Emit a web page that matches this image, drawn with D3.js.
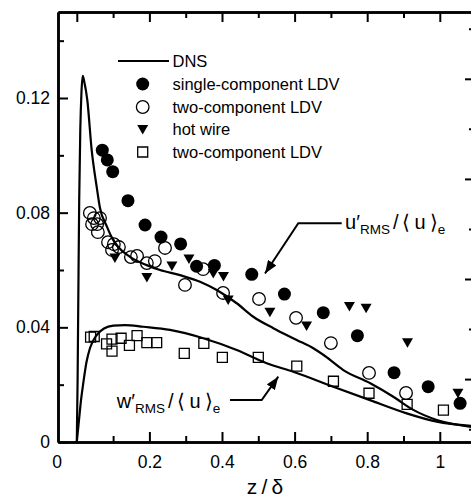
<!DOCTYPE html>
<html>
<head>
<meta charset="utf-8">
<script src="https://cdn.jsdelivr.net/npm/d3@7"></script>
<style>
  body { margin: 0; background: #fff; }
  svg { display: block; font-family: "Liberation Sans", Arial, sans-serif; }
  .axis path, .axis line { stroke: #000; }
  .axis text { font-size: 17.5px; fill: #000; }
</style>
</head>
<body>
<div id="chart"></div>
<script>
// DNS profiles (z/delta, value)
const dnsUz = [0, 0.0022, 0.0041, 0.0066, 0.0096, 0.0129, 0.0163, 0.0207, 0.0289, 0.041, 0.0548, 0.0639, 0.0824, 0.097, 0.1135, 0.1466, 0.1926, 0.2292, 0.2843, 0.3394, 0.3854, 0.4405, 0.4862, 0.5413, 0.6058, 0.6515, 0.6837, 0.7342, 0.8085, 0.8719, 0.927, 0.9915, 1.086];
const dnsUv = [0, 0.0216, 0.0495, 0.0844, 0.1088, 0.1221, 0.1277, 0.1256, 0.1193, 0.1018, 0.089, 0.0816, 0.0753, 0.0712, 0.0681, 0.0646, 0.0617, 0.06, 0.0582, 0.0559, 0.053, 0.0484, 0.0437, 0.0397, 0.0356, 0.0327, 0.03, 0.0251, 0.0205, 0.0158, 0.0112, 0.0077, 0.0053];
const dnsWz = [0, 0.0061, 0.0116, 0.0179, 0.0267, 0.0364, 0.0548, 0.0749, 0.1006, 0.1328, 0.1832, 0.2567, 0.3485, 0.4405, 0.5231, 0.5964, 0.7066, 0.8077, 0.9088, 0.9915, 1.086];
const dnsWv = [0, 0.0077, 0.0146, 0.0206, 0.0279, 0.0328, 0.0373, 0.0396, 0.0406, 0.0408, 0.0402, 0.0391, 0.0362, 0.0321, 0.0275, 0.0245, 0.0193, 0.0146, 0.01, 0.0071, 0.0056];

// single-component LDV (filled circles)
const ldv1Z = [0.0702, 0.084, 0.0989, 0.141, 0.188, 0.232, 0.286, 0.33, 0.379, 0.482, 0.572, 0.679, 0.773, 0.874, 0.968, 1.056];
const ldv1V = [0.1018, 0.0984, 0.0943, 0.0842, 0.0757, 0.0715, 0.0691, 0.0613, 0.0616, 0.0585, 0.0516, 0.0451, 0.0371, 0.0242, 0.0193, 0.0135];
// two-component LDV, u' (open circles)
const ldv2Z = [0.036, 0.047, 0.064, 0.042, 0.056, 0.058, 0.086, 0.102, 0.097, 0.116, 0.149, 0.166, 0.193, 0.215, 0.243, 0.298, 0.348, 0.403, 0.502, 0.604, 0.7, 0.805, 0.907];
const ldv2V = [0.0799, 0.0781, 0.0781, 0.076, 0.076, 0.0732, 0.0697, 0.069, 0.067, 0.068, 0.0645, 0.0649, 0.0624, 0.0631, 0.0677, 0.0548, 0.0603, 0.052, 0.0499, 0.0433, 0.0345, 0.0241, 0.0171];
// hot wire (triangles)
const hotZ = [0.105, 0.193, 0.262, 0.309, 0.376, 0.404, 0.417, 0.532, 0.633, 0.751, 0.797, 0.911, 1.05];
const hotV = [0.0642, 0.0574, 0.0614, 0.0638, 0.0588, 0.0577, 0.0495, 0.0453, 0.0405, 0.0473, 0.0467, 0.0346, 0.017];
// two-component LDV, w' (squares)
const ldvWZ = [0.038, 0.048, 0.082, 0.097, 0.097, 0.122, 0.145, 0.166, 0.193, 0.22, 0.296, 0.35, 0.401, 0.5, 0.606, 0.707, 0.805, 0.91, 1.01];
const ldvWV = [0.0366, 0.0368, 0.0342, 0.0359, 0.0317, 0.0362, 0.0337, 0.0371, 0.0347, 0.0347, 0.0309, 0.0344, 0.0295, 0.0295, 0.0265, 0.0212, 0.017, 0.0131, 0.0111];

const legendLabels = ['DNS', 'single-component LDV', 'two-component LDV', 'hot wire', 'two-component LDV'];
const xTicks = [0.2, 0.4, 0.6, 0.8, 1];
const xMinor = [0.1, 0.3, 0.5, 0.7, 0.9];
const xTopMajor = [0, 0.2, 0.4, 0.6, 0.8, 1];
const yTicks = [0, 0.04, 0.08, 0.12];
const yMinor = [0.02, 0.06, 0.1, 0.14];
const rTicks = [0.04, 0.08, 0.12, 0.16];
const rMinor = [0.02, 0.06, 0.1, 0.14, 0.18];

const width = 471;
const height = 500;
const plot = { left: 58, top: 12, right: 475, bottom: 442 };

const svg = d3.select('#chart')
  .append('svg')
  .attr('width', width)
  .attr('height', height);

const x = d3.scaleLinear().domain([-0.0518, 1.097]).range([plot.left, plot.right]);
const y = d3.scaleLinear().domain([0, 0.15]).range([plot.bottom, plot.top]);
// right-hand axis has its own tick spacing
const yR = d3.scaleLinear().domain([0.01486, 0.1867]).range([plot.bottom, plot.top]);

// arrow head
svg.append('defs').append('marker')
  .attr('id', 'arrow')
  .attr('markerUnits', 'userSpaceOnUse')
  .attr('markerWidth', 14)
  .attr('markerHeight', 10)
  .attr('refX', 13)
  .attr('refY', 5)
  .attr('orient', 'auto')
  .append('path')
  .attr('d', 'M0,0 L13,5 L0,10 z')
  .attr('fill', '#000');

// Axes
function styleAxis(g) {
  g.attr('class', 'axis');
  g.select('.domain').attr('stroke-width', 2.5);
  g.selectAll('.tick line').attr('stroke-width', 2);
}
svg.append('g')
  .attr('transform', `translate(${plot.left},0)`)
  .call(d3.axisLeft(y).tickValues(yTicks).tickSize(-10).tickSizeOuter(0).tickPadding(8).tickFormat(d => d === 0 ? '0' : d3.format('.2f')(d)))
  .call(styleAxis);
svg.append('g')
  .attr('transform', `translate(${plot.left},0)`)
  .call(d3.axisLeft(y).tickValues(yMinor).tickSize(-6).tickSizeOuter(0).tickFormat(''))
  .call(styleAxis);

svg.append('g')
  .attr('transform', `translate(0,${plot.bottom})`)
  .call(d3.axisBottom(x).tickValues(xTicks).tickSize(-10).tickSizeOuter(0).tickPadding(14).tickFormat(d3.format('~g')))
  .call(styleAxis);
svg.append('g')
  .attr('transform', `translate(0,${plot.bottom})`)
  .call(d3.axisBottom(x).tickValues(xMinor).tickSize(-6).tickSizeOuter(0).tickFormat(''))
  .call(styleAxis);
// the "0" label sits under the corner
svg.append('text')
  .attr('x', plot.left - 1)
  .attr('y', plot.bottom + 14)
  .attr('dy', '0.71em')
  .attr('text-anchor', 'middle')
  .style('font-size', '17.5px')
  .text('0');

svg.append('g')
  .attr('transform', `translate(0,${plot.top})`)
  .call(d3.axisTop(x).tickValues(xTopMajor).tickSize(-10).tickSizeOuter(0).tickFormat(''))
  .call(styleAxis);
svg.append('g')
  .attr('transform', `translate(0,${plot.top})`)
  .call(d3.axisTop(x).tickValues(xMinor).tickSize(-6).tickSizeOuter(0).tickFormat(''))
  .call(styleAxis);

svg.append('g')
  .attr('transform', `translate(${plot.right},0)`)
  .call(d3.axisRight(yR).tickValues(rTicks).tickSize(-10).tickSizeOuter(0).tickFormat(''))
  .call(styleAxis);
svg.append('g')
  .attr('transform', `translate(${plot.right},0)`)
  .call(d3.axisRight(yR).tickValues(rMinor).tickSize(-6).tickSizeOuter(0).tickFormat(''))
  .call(styleAxis);

// x label
svg.append('text')
  .attr('x', 265)
  .attr('y', 494)
  .attr('text-anchor', 'middle')
  .style('font-size', '21px')
  .text('z\u2009/\u2009\u03b4');

// DNS lines
const line = d3.line()
  .x(d => x(d[0]))
  .y(d => y(d[1]))
  .curve(d3.curveMonotoneX);

[[dnsUz, dnsUv], [dnsWz, dnsWv]].forEach(([zs, vs]) => {
  svg.append('path')
    .attr('d', line(zs.map((z, i) => [z, vs[i]])))
    .attr('fill', 'none')
    .attr('stroke', '#000')
    .attr('stroke-width', 2.2);
});

// markers
const tri = 'M-5.5,-4.5 L5.5,-4.5 L0,5 Z';
const sq = 'M-5,-5 L5,-5 L5,5 L-5,5 Z';

function drawCircles(zs, vs, filled) {
  svg.append('g').selectAll('circle')
    .data(zs.map((z, i) => [z, vs[i]]))
    .enter()
    .append('circle')
    .attr('cx', d => x(d[0]))
    .attr('cy', d => y(d[1]))
    .attr('r', filled ? 6.5 : 6.3)
    .attr('fill', filled ? '#000' : 'none')
    .attr('stroke', '#000')
    .attr('stroke-width', filled ? 0 : 1.3);
}
function drawPaths(zs, vs, d, filled) {
  svg.append('g').selectAll('path')
    .data(zs.map((z, i) => [z, vs[i]]))
    .enter()
    .append('path')
    .attr('d', d)
    .attr('transform', p => `translate(${x(p[0])},${y(p[1])})`)
    .attr('fill', filled ? '#000' : 'none')
    .attr('stroke', filled ? 'none' : '#000')
    .attr('stroke-width', 1.3);
}
drawPaths(ldvWZ, ldvWV, sq, false);
drawCircles(ldv2Z, ldv2V, false);
drawCircles(ldv1Z, ldv1V, true);
drawPaths(hotZ, hotV, tri, true);

// Legend
const legend = svg.append('g');
const rowY = [61, 84, 107, 129.5, 152];
legend.append('line')
  .attr('x1', 118).attr('x2', 169)
  .attr('y1', rowY[0]).attr('y2', rowY[0])
  .attr('stroke', '#000').attr('stroke-width', 2.2);
legend.append('circle').attr('cx', 142.7).attr('cy', rowY[1]).attr('r', 6.5).attr('fill', '#000');
legend.append('circle').attr('cx', 142.7).attr('cy', rowY[2]).attr('r', 6.3).attr('fill', 'none').attr('stroke', '#000').attr('stroke-width', 1.3);
legend.append('path').attr('d', tri).attr('transform', `translate(142.7,${rowY[3]})`).attr('fill', '#000');
legend.append('path').attr('d', sq).attr('transform', `translate(142.7,${rowY[4]})`).attr('fill', 'none').attr('stroke', '#000').attr('stroke-width', 1.3);
legend.selectAll('text')
  .data(legendLabels)
  .enter()
  .append('text')
  .attr('x', 172.5)
  .attr('y', (d, i) => rowY[i])
  .attr('dy', '0.36em')
  .style('font-size', '16.5px')
  .text(d => d);

// Annotations with leader arrows
function annotate(sym, tx, ty, pts) {
  const t = svg.append('text')
    .attr('x', x(tx))
    .attr('y', y(ty))
    .style('font-size', '20px');
  t.append('tspan').text(sym + '\u2032');
  t.append('tspan').attr('dy', 5).style('font-size', '13.5px').text('RMS');
  t.append('tspan').attr('dy', -5).attr('dx', 3).text('/\u2009\u27e8\u2009u\u2009\u27e9');
  t.append('tspan').attr('dy', 5).style('font-size', '13.5px').text('e');
  svg.append('path')
    .attr('d', d3.line().x(d => x(d[0])).y(d => y(d[1]))(pts))
    .attr('fill', 'none')
    .attr('stroke', '#000')
    .attr('stroke-width', 2)
    .attr('marker-end', 'url(#arrow)');
}
annotate('u', 0.739, 0.0742, [[0.7298, 0.0763], [0.6102, 0.0763], [0.5185, 0.0588]]);
annotate('w', 0.110, 0.01175, [[0.422, 0.01465], [0.5094, 0.01465], [0.5551, 0.02278]]);
</script>
</body>
</html>
